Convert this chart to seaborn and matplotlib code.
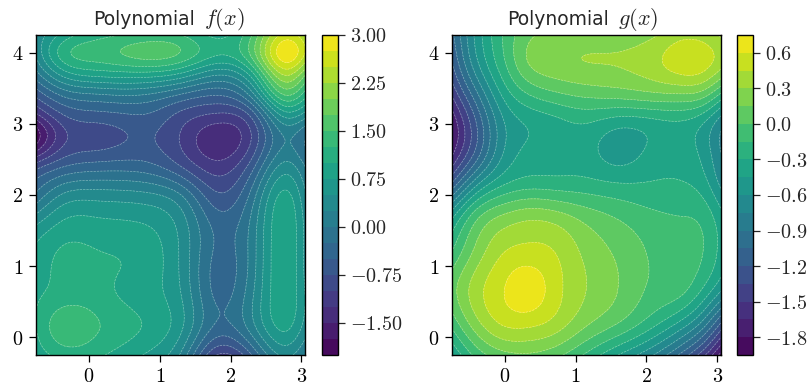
import numpy as np
import matplotlib
matplotlib.use("Agg")
import matplotlib.pyplot as plt
import seaborn as sns
from matplotlib.ticker import FuncFormatter, FixedLocator

f_x = [-0.75, -0.35, 0.1, 0.45, 0.85, 1.3, 1.8, 2.3, 2.8, 3.05]
f_y = [-0.25, 0.15, 0.6, 1.0, 1.5, 2.0, 2.4, 2.85, 3.15, 3.4, 3.7, 4.0, 4.25]
f_values = [
    [0.85, 1.10, 1.05, 0.90, 0.70, 0.20, -1.00, -0.50, 0.30, 0.00],
    [1.00, 1.42, 1.28, 1.12, 0.95, 0.55, -0.30, 0.15, 0.80, 0.40],
    [0.95, 1.12, 1.10, 0.98, 0.85, 0.50, -0.30, 0.20, 0.92, 0.50],
    [0.85, 1.08, 1.05, 1.00, 0.88, 0.45, -0.33, 0.12, 0.94, 0.45],
    [0.60, 0.88, 0.88, 0.85, 0.78, 0.42, -0.30, 0.10, 0.94, 0.45],
    [-0.20, 0.30, 0.38, 0.36, 0.30, 0.00, -0.70, -0.15, 0.80, 0.30],
    [-0.85, -0.50, -0.38, -0.36, -0.42, -0.75, -1.15, -0.60, 0.35, 0.00],
    [-1.90, -1.05, -0.88, -0.78, -0.72, -1.02, -1.42, -0.98, 0.05, -0.20],
    [-1.25, -0.70, -0.55, -0.50, -0.50, -0.80, -1.00, -0.60, 0.70, 0.45],
    [-0.70, -0.20, -0.05, 0.00, -0.05, -0.30, -0.50, 0.10, 1.50, 1.10],
    [-0.10, 0.62, 0.85, 0.90, 0.90, 0.70, 0.30, 0.90, 2.30, 1.80],
    [0.30, 1.15, 1.38, 1.50, 1.62, 1.48, 1.05, 1.60, 2.95, 2.50],
    [0.30, 0.85, 1.15, 1.25, 1.32, 1.25, 0.95, 1.50, 2.60, 2.30],
]

g_x = [-0.75, -0.4, 0.0, 0.3, 0.7, 1.1, 1.6, 2.1, 2.5, 2.8, 3.05]
g_y = [-0.25, 0.2, 0.7, 1.2, 1.7, 2.2, 2.6, 3.0, 3.4, 3.9, 4.25]
g_values = [
    [-0.45, -0.10, 0.10, 0.13, 0.05, -0.15, -0.45, -0.75, -1.10, -1.45, -1.85],
    [-0.10, 0.25, 0.48, 0.50, 0.40, 0.20, 0.00, -0.25, -0.50, -0.80, -1.20],
    [0.08, 0.38, 0.60, 0.70, 0.52, 0.32, 0.15, -0.03, -0.10, -0.30, -0.55],
    [-0.15, 0.20, 0.45, 0.50, 0.45, 0.28, 0.12, -0.03, -0.10, -0.15, -0.35],
    [-0.50, -0.05, 0.18, 0.25, 0.22, 0.10, -0.02, -0.12, -0.15, -0.20, -0.40],
    [-1.25, -0.70, -0.35, -0.26, -0.26, -0.27, -0.32, -0.30, -0.30, -0.40, -0.65],
    [-1.70, -1.15, -0.58, -0.42, -0.38, -0.38, -0.52, -0.40, -0.37, -0.50, -0.75],
    [-1.78, -1.20, -0.60, -0.44, -0.36, -0.30, -0.40, -0.36, -0.33, -0.45, -0.70],
    [-1.50, -0.95, -0.40, -0.18, -0.05, 0.02, 0.05, 0.10, 0.12, 0.05, -0.20],
    [-1.20, -0.62, -0.15, 0.14, 0.26, 0.30, 0.31, 0.40, 0.55, 0.53, 0.38],
    [-1.10, -0.55, -0.12, 0.10, 0.18, 0.21, 0.23, 0.28, 0.40, 0.38, 0.28],
]

title_word = "Polynomial"
title_maths = ["$f(x)$", "$g(x)$"]
f_cbar_ticks = [-1.5, -0.75, 0.0, 0.75, 1.5, 2.25, 3.0]
g_cbar_ticks = [-1.8, -1.5, -1.2, -0.9, -0.6, -0.3, 0.0, 0.3, 0.6]
x_ticks = [0, 1, 2, 3]
y_ticks = [0, 1, 2, 3, 4]


# ---------------- smooth rendering of the sampled field ----------------
def spline_weights(xk, xe):
    xk = np.asarray(xk, float)
    n = len(xk)
    h = np.diff(xk)
    A = np.zeros((n, n))
    B = np.zeros((n, n))
    A[0, 0] = A[-1, -1] = 1.0
    for i in range(1, n - 1):
        A[i, i - 1] = h[i - 1]
        A[i, i] = 2 * (h[i - 1] + h[i])
        A[i, i + 1] = h[i]
        B[i, i - 1] = 6 / h[i - 1]
        B[i, i] = -6 / h[i - 1] - 6 / h[i]
        B[i, i + 1] = 6 / h[i]
    M = np.linalg.solve(A, B)
    idx = np.clip(np.searchsorted(xk, xe) - 1, 0, n - 2)
    W = np.zeros((len(xe), n))
    for r, (x, i) in enumerate(zip(xe, idx)):
        hi = h[i]
        a = xk[i + 1] - x
        b = x - xk[i]
        W[r] += M[i] * a ** 3 / (6 * hi) + M[i + 1] * b ** 3 / (6 * hi)
        W[r] -= M[i] * hi / 6 * a + M[i + 1] * hi / 6 * b
        W[r, i] += a / hi
        W[r, i + 1] += b / hi
    return W


def field(xk, yk, vals, xe, ye):
    G = np.asarray(vals, float)
    return spline_weights(yk, ye) @ G @ spline_weights(xk, xe).T


xe = np.linspace(-0.75, 3.05, 300)
ye = np.linspace(-0.25, 4.25, 350)
XX, YY = np.meshgrid(xe, ye)

f_levels = np.linspace(-2.0, 3.0, 21)
g_levels = np.linspace(-1.95, 0.75, 19)

Zf = np.clip(field(f_x, f_y, f_values, xe, ye), -1.999, 2.999)
Zg = np.clip(field(g_x, g_y, g_values, xe, ye), -1.949, 0.749)

# ---------------- plotting ----------------
sns.set_style("ticks")
plt.rcParams["font.family"] = ["DejaVu Sans"]
plt.rcParams["mathtext.fontset"] = "cm"
cmap = sns.color_palette("viridis", as_cmap=True)

W, H = 809, 385
fig = plt.figure(figsize=(W / 100, H / 100), dpi=100)
ax1 = fig.add_axes([36 / W, 30 / H, 269 / W, 320 / H])
cax1 = fig.add_axes([322 / W, 30 / H, 15.5 / W, 320 / H])
ax2 = fig.add_axes([451.7 / W, 30 / H, 269 / W, 320 / H])
cax2 = fig.add_axes([737 / W, 30 / H, 15.5 / W, 320 / H])

math_int = FuncFormatter(lambda v, p: f"${v:.0f}$")

panels = [
    (ax1, cax1, Zf, f_levels, title_maths[0], f_cbar_ticks, "{:.2f}", 0.591, 0.626),
    (ax2, cax2, Zg, g_levels, title_maths[1], g_cbar_ticks, "{:.1f}", 0.583, 0.619),
]
for ax, cax, Z, levels, tmath, cticks, cfmt, xw, xm in panels:
    cs = ax.contourf(XX, YY, Z, levels=levels, cmap=cmap)
    ax.contour(XX, YY, Z, levels=levels, colors="white", linewidths=0.45,
               alpha=0.45, linestyles="dashed")
    ax.set_xlim(-0.75, 3.05)
    ax.set_ylim(-0.25, 4.25)
    ax.xaxis.set_major_locator(FixedLocator(x_ticks))
    ax.yaxis.set_major_locator(FixedLocator(y_ticks))
    ax.xaxis.set_major_formatter(math_int)
    ax.yaxis.set_major_formatter(math_int)
    ax.tick_params(labelsize=14.5, length=5, width=0.9, colors="black", pad=4)
    for s in ax.spines.values():
        s.set_linewidth(1.0)
        s.set_color("black")
        s.set_visible(True)
    ax.text(xw, 1.031, title_word, transform=ax.transAxes, ha="right",
            va="baseline", fontsize=13.5)
    ax.text(xm, 1.031, tmath, transform=ax.transAxes, ha="left",
            va="baseline", fontsize=16)

    cb = fig.colorbar(cs, cax=cax, ticks=cticks)
    cb.ax.yaxis.set_major_formatter(
        FuncFormatter(lambda v, p, fm=cfmt: "$" + fm.format(v) + "$"))
    cb.ax.tick_params(labelsize=14.5, length=5, width=0.9, pad=4)
    cb.outline.set_linewidth(1.0)
    cb.outline.set_edgecolor("black")

fig.savefig("out.png", dpi=100)
